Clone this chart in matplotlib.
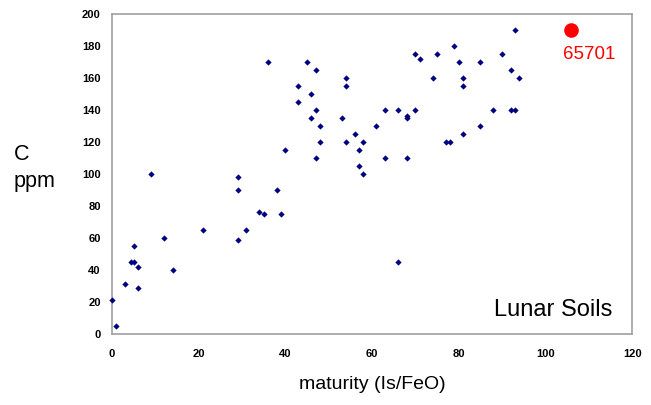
import matplotlib
matplotlib.use("Agg")
import matplotlib.pyplot as plt

# lunar soil data: maturity (Is/FeO) vs carbon (ppm)
maturity = [0, 1, 3, 4.5, 5, 5, 6, 6, 9, 12, 14, 21, 29, 29, 29, 31, 34, 35,
            36, 38, 39, 40, 43, 43, 45, 46, 46, 47, 47, 47, 48, 48, 53, 54,
            54, 54, 56, 57, 57, 58, 58, 61, 63, 63, 66, 66, 68, 68, 68, 70,
            70, 71, 74, 75, 77, 78, 79, 80, 81, 81, 81, 85, 85, 88, 90, 92,
            92, 93, 93, 94]
carbon = [21, 5, 31, 45, 45, 55, 42, 29, 100, 60, 40, 65, 98, 90, 59, 65, 76, 75,
          170, 90, 75, 115, 155, 145, 170, 150, 135, 165, 140, 110, 130, 120, 135, 160,
          155, 120, 125, 115, 105, 120, 100, 130, 140, 110, 140, 45, 135, 136, 110, 175,
          140, 172, 160, 175, 120, 120, 180, 170, 160, 155, 125, 170, 130, 140, 175, 165,
          140, 190, 140, 160]

special_x = [106]
special_y = [190]
special_label = "65701"

plt.rcParams['font.family'] = ['Liberation Sans', 'DejaVu Sans']

fig = plt.figure(figsize=(6.51, 4.05), dpi=100)
ax = fig.add_axes([0.172, 0.1753, 0.799, 0.7901])

ax.plot(maturity, carbon, linestyle="none", marker="D", markersize=3.2,
        color="#000080", markeredgewidth=0, clip_on=False, zorder=4)
ax.plot(special_x, special_y, linestyle="none", marker="o", markersize=10.5,
        color="#ff0000", markeredgewidth=0, zorder=4)
ax.text(110, 175, special_label, color="#ff0000",
        fontsize=13.5, ha="center", va="center")

ax.text(0.9615, 0.075, "Lunar Soils", transform=ax.transAxes, fontsize=17,
        ha="right", va="center")

ax.set_xlim(0, 120)
ax.set_ylim(0, 200)
ax.set_xticks(range(0, 121, 20))
ax.set_yticks(range(0, 201, 20))
ax.tick_params(length=0, labelsize=8)
ax.tick_params(axis="x", pad=11)
ax.tick_params(axis="y", pad=8)
for lab in ax.get_xticklabels() + ax.get_yticklabels():
    lab.set_fontweight("bold")

for s in ax.spines.values():
    s.set_color("#a0a0a0")
    s.set_linewidth(1.2)

ax.set_xlabel("maturity (Is/FeO)", fontsize=14, labelpad=12)
fig.text(0.0215, 0.605, "C", fontsize=15.5, ha="left", va="baseline")
fig.text(0.0215, 0.538, "ppm", fontsize=15.5, ha="left", va="baseline")

fig.savefig("out.png", dpi=100)
